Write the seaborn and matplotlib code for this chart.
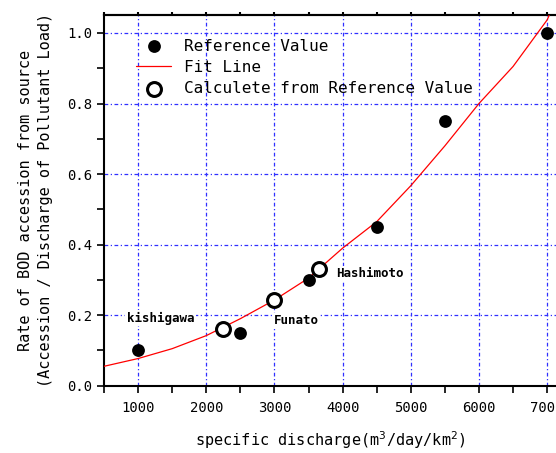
import matplotlib
matplotlib.use("Agg")
import matplotlib.pyplot as plt
import seaborn as sns
import pandas as pd
from matplotlib.ticker import MultipleLocator

# Reference values (filled circles)
ref_x = [1000, 2500, 3500, 4500, 5500, 7000]
ref_y = [0.10, 0.15, 0.30, 0.45, 0.75, 1.00]

# Values calculated from reference (open circles)
calc_x = [2250, 3000, 3650]
calc_y = [0.162, 0.243, 0.331]
calc_names = ["kishigawa", "Funato", "Hashimoto"]

# Fit line
fit_x = [500, 1000, 1500, 2000, 2500, 3000, 3500, 4000, 4500, 5000, 5500, 6000, 6500, 7000, 7030]
fit_y = [0.055, 0.077, 0.105, 0.142, 0.19, 0.243, 0.305, 0.39, 0.465, 0.567, 0.68, 0.80, 0.905, 1.037, 1.05]

x_ticks = [1000, 2000, 3000, 4000, 5000, 6000, 7000]
y_ticks = [0.0, 0.2, 0.4, 0.6, 0.8, 1.0]
y_ticklabels = ["0.0", "0.2", "0.4", "0.6", "0.8", "1.0"]

sns.set_style("ticks")
plt.rcParams["font.family"] = ["DejaVu Sans Mono", "DejaVu Sans"]
plt.rcParams["text.color"] = "black"
plt.rcParams["axes.labelcolor"] = "black"
plt.rcParams["xtick.color"] = "black"
plt.rcParams["ytick.color"] = "black"

W, H = 556, 453
fig = plt.figure(figsize=(W / 100, H / 100), dpi=100)
ax = fig.add_axes([104 / W, (H - 385.7) / H, (W - 104) / W, 370.7 / H])

ref_df = pd.DataFrame({"x": ref_x, "y": ref_y})
calc_df = pd.DataFrame({"x": calc_x, "y": calc_y})
fit_df = pd.DataFrame({"x": fit_x, "y": fit_y})

sns.lineplot(data=fit_df, x="x", y="y", ax=ax, color="red", linewidth=0.9,
             label="Fit Line", zorder=3)
sns.scatterplot(data=ref_df, x="x", y="y", ax=ax, color="black", s=85,
                edgecolor="black", linewidth=0, label="Reference Value", zorder=4)
sns.scatterplot(data=calc_df, x="x", y="y", ax=ax, facecolor="white", s=100,
                edgecolor="black", linewidth=2.2,
                label="Calculete from Reference Value", zorder=5)

# labels
label_pos = [(1330, 0.192, "center"), (2990, 0.184, "left"), (3900, 0.317, "left")]
for (lx, ly, ha), name in zip(label_pos, calc_names):
    ax.text(lx, ly, name, ha=ha, va="center", fontsize=9, fontweight="bold",
            color="black",
            bbox=dict(facecolor="white", edgecolor="none", pad=1), zorder=6)

ax.set_xlim(500, 7130)
ax.set_ylim(0, 1.051)
ax.set_xticks(x_ticks)
ax.set_xticklabels([str(v) for v in x_ticks], fontsize=10)
ax.set_yticks(y_ticks)
ax.set_yticklabels(y_ticklabels, fontsize=10)
ax.xaxis.set_minor_locator(MultipleLocator(500))
ax.yaxis.set_minor_locator(MultipleLocator(0.1))
ax.tick_params(axis="both", which="both", direction="out", length=5, width=1.2, color="black")
ax.tick_params(axis="x", which="both", top=False, labeltop=False, pad=6)

# small ticks along the top edge
top = ax.secondary_xaxis("top")
top.xaxis.set_major_locator(MultipleLocator(500))
top.tick_params(axis="x", which="both", direction="out", length=2, width=1.5, labeltop=False)
top.spines["top"].set_linewidth(1.5)

ax.grid(True, which="major", color="#3030ff", linestyle=(0, (3, 2, 1, 2)), linewidth=0.9)
ax.spines["right"].set_visible(False)
for s in ["left", "bottom", "top"]:
    ax.spines[s].set_linewidth(1.5)
    ax.spines[s].set_color("black")

ax.set_xlabel("specific discharge(m$^{3}$/day/km$^{2}$)", fontsize=11, labelpad=10)
ax.set_ylabel("Rate of BOD accession from source\n(Accession / Discharge of Pollutant Load)",
              fontsize=11, labelpad=10, linespacing=1.4)

handles, labels = ax.get_legend_handles_labels()
order = [labels.index("Reference Value"), labels.index("Fit Line"),
         labels.index("Calculete from Reference Value")]
ax.legend([handles[i] for i in order], [labels[i] for i in order],
          loc="upper left", bbox_to_anchor=(0.05, 0.962), frameon=False,
          fontsize=11.5, handlelength=2.2, labelspacing=0.4, borderaxespad=0.2)

fig.savefig("out.png", dpi=100)
